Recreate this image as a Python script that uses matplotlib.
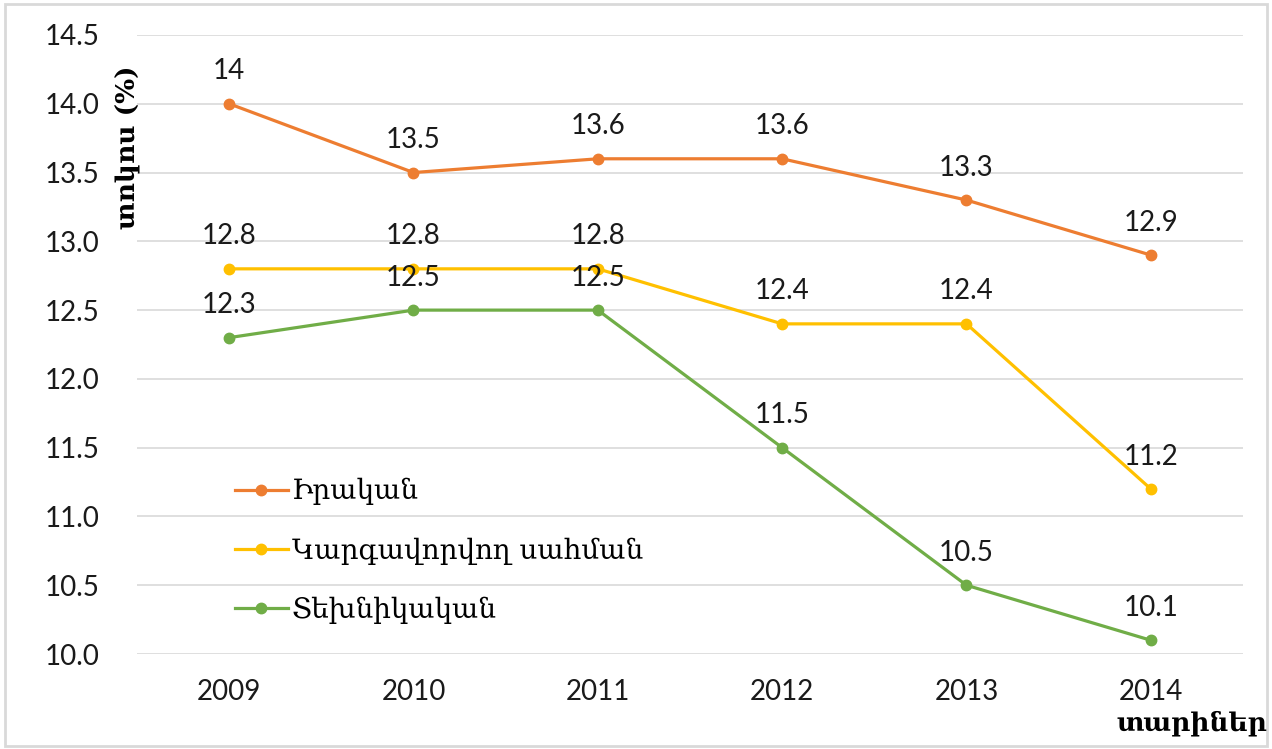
import matplotlib.pyplot as plt
from matplotlib.patches import Rectangle

years = ['2009', '2010', '2011', '2012', '2013', '2014']
irakan = [14.0, 13.5, 13.6, 13.6, 13.3, 12.9]
kargavorvogh = [12.8, 12.8, 12.8, 12.4, 12.4, 11.2]
tekhnikakan = [12.3, 12.5, 12.5, 11.5, 10.5, 10.1]
label_names = ['Իրական', 'Կարգավորվող սահման', 'Տեխնիկական']
colors = ['#ED7D31', '#FFC000', '#70AD47']
yticks = [10.0, 10.5, 11.0, 11.5, 12.0, 12.5, 13.0, 13.5, 14.0, 14.5]

plt.rcParams['font.family'] = ['Lato', 'DejaVu Sans']

fig = plt.figure(figsize=(12.72, 7.49), dpi=100)
ax = fig.add_axes([0.1077, 0.1268, 0.8695, 0.8265])

x = list(range(len(years)))
series = [irakan, kargavorvogh, tekhnikakan]
for vals, name, c in zip(series, label_names, colors):
    ax.plot(x, vals, color=c, lw=2.3, marker='o', ms=7.5, label=name, zorder=3)
    for xi, v in zip(x, vals):
        lab = '%g' % v
        ax.annotate(lab, (xi, v), xytext=(0, 14), textcoords='offset points',
                    ha='center', va='bottom', fontsize=20, color='#1a1a1a')

ax.set_xlim(-0.5, len(years) - 0.5)
ax.set_ylim(10.0, 14.5)
ax.set_xticks(x)
ax.set_xticklabels(years)
ax.set_yticks(yticks)
ax.set_yticklabels(['%.1f' % t for t in yticks])
ax.tick_params(axis='both', length=0, labelsize=20, colors='#1a1a1a')
ax.tick_params(axis='x', pad=18)
ax.tick_params(axis='y', pad=27)
ax.grid(axis='y', color='#d9d9d9', lw=1.2)
ax.set_axisbelow(True)
for s in ax.spines.values():
    s.set_visible(False)

ax.set_ylabel('տոկոս (%)', family=['DejaVu Serif'], fontweight='bold', fontsize=19)
ax.yaxis.set_label_coords(0.004, 0.819)
fig.text(0.996, 0.035, 'տարիներ', family=['DejaVu Serif'], fontweight='bold', fontsize=19,
         ha='right', va='center')

leg = ax.legend(loc='lower left', bbox_to_anchor=(0.066, 0.008), frameon=False,
                prop={'family': 'DejaVu Serif', 'size': 20}, handlelength=1.9,
                handletextpad=0.15, labelspacing=1.15)

fig.patches.append(Rectangle((0.004, 0.004), 0.992, 0.99, transform=fig.transFigure,
                             fill=False, edgecolor='#d9d9d9', lw=2))

fig.savefig('out.png', dpi=100)
